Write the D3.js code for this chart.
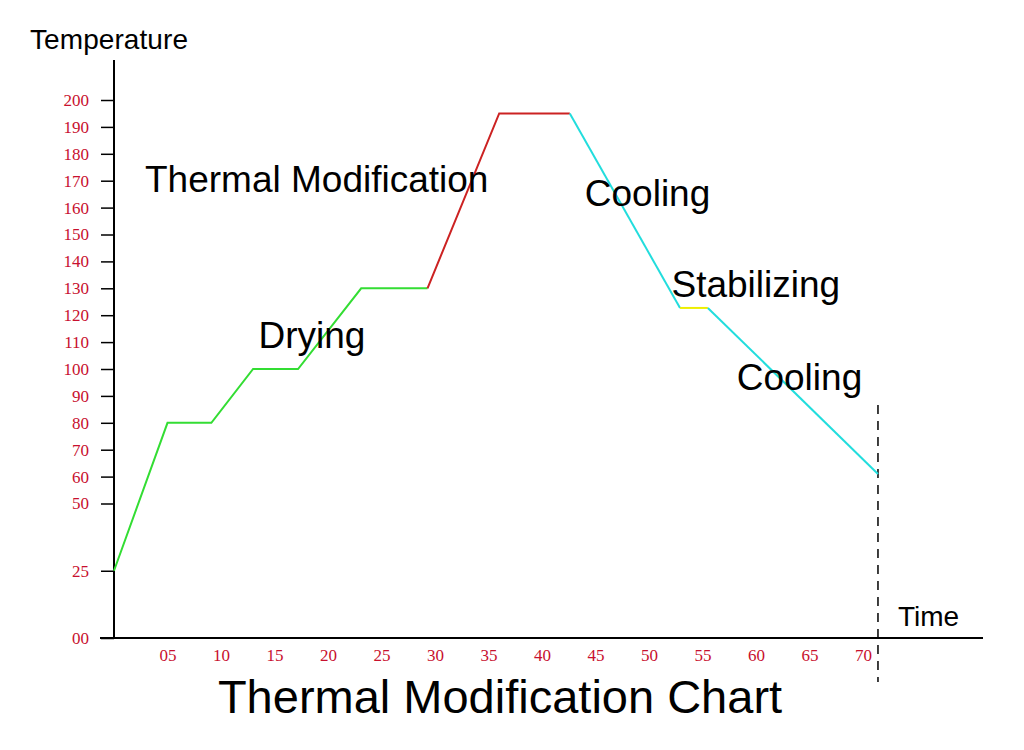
<!DOCTYPE html>
<html>
<head>
<script src="https://cdnjs.cloudflare.com/ajax/libs/d3/7.8.5/d3.min.js"></script>
<meta charset="utf-8">
<style>body{margin:0;background:#fff}</style>
</head>
<body>
<svg id="chart" width="1024" height="750"></svg>
<script>
  // temperature profile, time vs temperature, split into coloured phases
  var dryingPts = [[0,25],[5,80],[9.1,80],[13,100],[17.2,100],[23.1,130],[29.3,130]];
  var heatPts = [[29.3,130],[36,195],[42.6,195]];
  var coolPts1 = [[42.6,195],[52.9,122.7]];
  var stabPts = [[52.9,122.7],[55.5,122.7]];
  var coolPts2 = [[55.5,122.7],[71.4,61]];
  var yTicks = [0,25,50,60,70,80,90,100,110,120,130,140,150,160,170,180,190,200];
  var xTicks = [5,10,15,20,25,30,35,40,45,50,55,60,65,70];
  var phaseLabels = [
    {text:"Thermal Modification", x:2.9, y:165.8},
    {text:"Drying", x:13.5, y:107.8},
    {text:"Cooling", x:44, y:160.6},
    {text:"Stabilizing", x:52.1, y:126.8},
    {text:"Cooling", x:58.2, y:92.2}
  ];

  var svg = d3.select("#chart");
  var x = d3.scaleLinear().domain([0,70]).range([114,863]);
  var y = d3.scaleLinear().domain([0,200]).range([638,100]);
  var pad = function(v){ return v < 10 ? "0"+v : ""+v; };

  // axes
  svg.append("line").attr("x1",114).attr("x2",114).attr("y1",60).attr("y2",638).attr("stroke","#000").attr("stroke-width",2);
  svg.append("line").attr("x1",100).attr("x2",983).attr("y1",638).attr("y2",638).attr("stroke","#000").attr("stroke-width",2);

  var yg = svg.append("g").attr("transform","translate(114,0)")
    .call(d3.axisLeft(y).tickValues(yTicks).tickSize(13).tickFormat(pad));
  yg.select(".domain").remove();
  yg.selectAll("line").attr("stroke","#000").attr("stroke-width",1.5);
  yg.selectAll("text").attr("fill","#c8102e").attr("font-family","Liberation Serif").attr("font-size",17).attr("x",-25);

  var xg = svg.append("g").attr("transform","translate(0,638)")
    .call(d3.axisBottom(x).tickValues(xTicks).tickSize(0).tickFormat(pad));
  xg.select(".domain").remove();
  xg.selectAll("text").attr("fill","#c8102e").attr("font-family","Liberation Serif").attr("font-size",17).attr("dy","1.15em");

  // dashed end marker
  svg.append("line").attr("x1",x(71.4)).attr("x2",x(71.4)).attr("y1",405).attr("y2",682)
    .attr("stroke","#000").attr("stroke-width",1.5).attr("stroke-dasharray","9,7");

  var line = d3.line().x(function(d){return x(d[0]);}).y(function(d){return y(d[1]);});
  [[dryingPts,"#33dd33"],[heatPts,"#cc2222"],[coolPts1,"#22dddd"],[stabPts,"#eeee00"],[coolPts2,"#22dddd"]].forEach(function(s){
    svg.append("path").datum(s[0]).attr("d",line).attr("fill","none").attr("stroke",s[1]).attr("stroke-width",2);
  });

  svg.selectAll("text.phase").data(phaseLabels).enter().append("text").attr("class","phase")
    .attr("x",function(d){return x(d.x);}).attr("y",function(d){return y(d.y);})
    .attr("font-family","Liberation Sans").attr("font-size",37).attr("fill","#000")
    .text(function(d){return d.text;});

  svg.append("text").attr("x",30).attr("y",49).attr("font-family","Liberation Sans").attr("font-size",28).attr("textLength",158).text("Temperature");
  svg.append("text").attr("x",898).attr("y",626).attr("font-family","Liberation Sans").attr("font-size",28).text("Time");
  svg.append("text").attr("x",500).attr("y",713).attr("text-anchor","middle").attr("font-family","Liberation Sans").attr("font-size",47).text("Thermal Modification Chart");
</script>
</body>
</html>
